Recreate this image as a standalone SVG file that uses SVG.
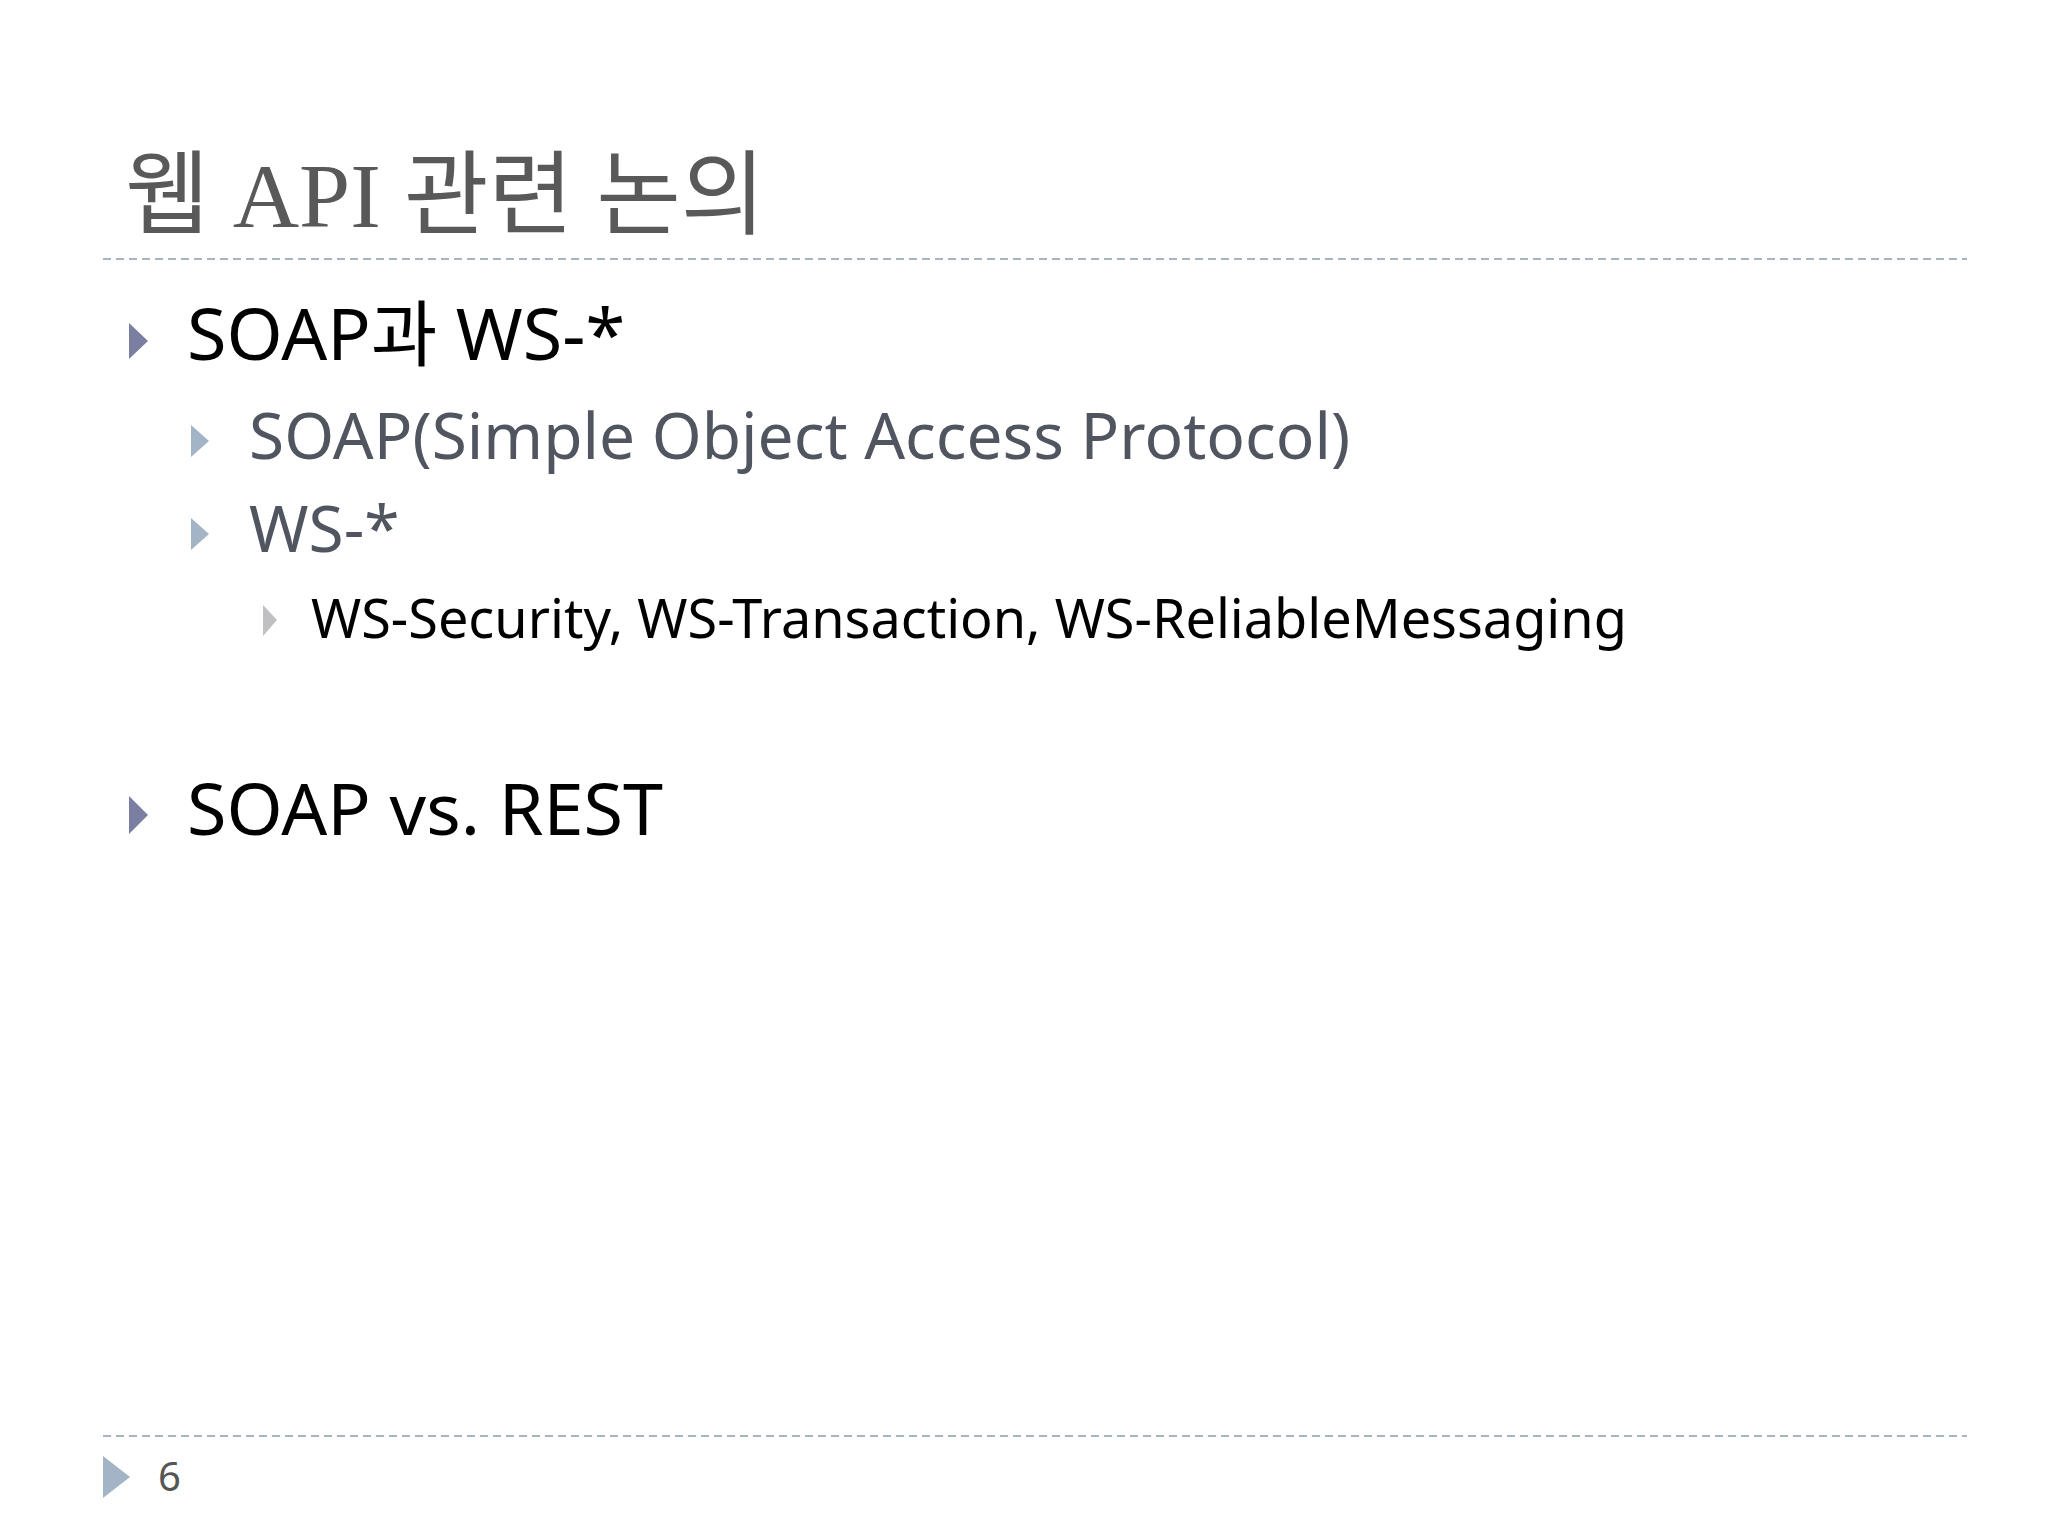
<svg xmlns="http://www.w3.org/2000/svg" width="2048" height="1536" viewBox="0 0 2048 1536">
<style>
.s{font-family:"Noto Sans","Noto Sans CJK KR",sans-serif}
.t{font-family:"Liberation Serif","Noto Sans CJK KR",serif}
.dl{stroke:#a8b4c0;stroke-width:2;stroke-dasharray:8,5}
</style>
<rect width="2048" height="1536" fill="#ffffff"/>
<g id="title"><text class="t" x="125" y="227" font-size="92" fill="#595959">웹 API 관련 논의</text></g>
<line class="dl" x1="103" y1="259" x2="1967" y2="259"/>
<g id="b1"><polygon points="129,323 148,341 129,359" fill="#7a7ea0"/>
<text class="s" x="187" y="360" font-size="72" fill="#000">SOAP과 WS-*</text></g>
<g id="b11"><polygon points="191,425 209,441 191,457" fill="#a3b4c6"/>
<text class="s" x="249" y="459" font-size="64" fill="#505560">SOAP(Simple Object Access Protocol)</text></g>
<g id="b12"><polygon points="191,518 209,534 191,550" fill="#a3b4c6"/>
<text class="s" x="249" y="552" font-size="64" fill="#505560">WS-*</text></g>
<g id="b121"><polygon points="263,605 277,620 263,636" fill="#c0c0c4"/>
<text class="s" x="311" y="638" font-size="54" fill="#000">WS-Security, WS-Transaction, WS-ReliableMessaging</text></g>
<g id="b2"><polygon points="129,796 148,815 129,834" fill="#7a7ea0"/>
<text class="s" x="187" y="835" font-size="72" fill="#000">SOAP vs. REST</text></g>
<line class="dl" x1="103" y1="1436" x2="1967" y2="1436"/>
<g id="footer"><polygon points="103,1456 130,1477 103,1498" fill="#a3b4c6"/>
<text class="s" x="158" y="1491" font-size="40" fill="#555">6</text></g>
</svg>
